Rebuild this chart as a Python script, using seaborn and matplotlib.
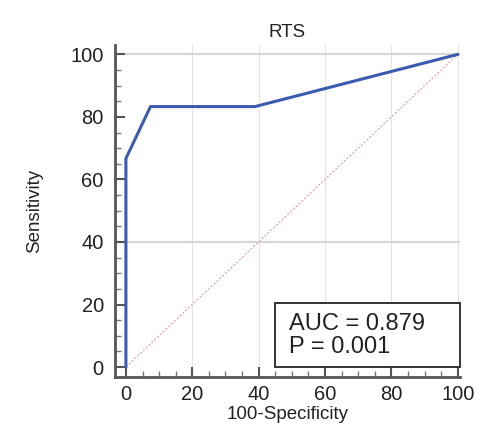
import matplotlib
matplotlib.use("Agg")
import matplotlib.pyplot as plt
import seaborn as sns
import pandas as pd
from matplotlib.ticker import MultipleLocator
from matplotlib.patches import Rectangle

fpr = [0, 0, 7.4, 38.9, 100]
tpr = [0, 66.7, 83.3, 83.3, 100]
diag_x = [0, 100]
diag_y = [0, 100]
x_ticks = [0, 20, 40, 60, 80, 100]
y_ticks = [0, 20, 40, 60, 80, 100]
title = "RTS"
auc_text = "AUC = 0.879\nP = 0.001"

sns.set_theme(style="white")
plt.rcParams['font.family'] = ['Liberation Sans', 'DejaVu Sans']

fig = plt.figure(figsize=(4.81, 4.41), dpi=100)
ax = fig.add_axes([0.239, 0.145, 0.717, 0.753])

for v in x_ticks[1:]:
    ax.axvline(v, color="#e4e4e4", lw=0.8, zorder=0)
for v in [40, 100]:
    ax.axhline(v, color="#d8d8d8", lw=1.6, zorder=0)

sns.lineplot(x=diag_x, y=diag_y, ax=ax, color="#e8a0a0", lw=0.8, linestyle=(0, (2, 1.5)), zorder=1)
df = pd.DataFrame({"fpr": fpr, "tpr": tpr})
sns.lineplot(data=df, x="fpr", y="tpr", ax=ax, color="#3a5bb0", lw=2.2, sort=False, estimator=None, zorder=3)

ax.set_xlim(-3.3, 100.6)
ax.set_ylim(-3.2, 103)
ax.set_xticks(x_ticks)
ax.set_yticks(y_ticks)
ax.xaxis.set_minor_locator(MultipleLocator(5))
ax.yaxis.set_minor_locator(MultipleLocator(5))
ax.tick_params(which="major", direction="in", length=7, width=1.5, color="#555555",
               labelsize=14.5, labelcolor="#222222")
ax.tick_params(axis="x", which="major", pad=6)
ax.tick_params(axis="y", which="major", pad=8)
ax.tick_params(which="minor", direction="in", length=4, width=1.0, color="#777777")
ax.tick_params(axis="both", which="both", left=True, bottom=True)

for s in ["top", "right"]:
    ax.spines[s].set_visible(False)
for s in ["left", "bottom"]:
    ax.spines[s].set_color("#555555")
    ax.spines[s].set_linewidth(2)

ax.set_xlabel("100-Specificity", fontsize=13.5, color="#222222", labelpad=1)
ax.set_ylabel("Sensitivity", fontsize=13.5, color="#222222", labelpad=20)
ax.set_title(title, fontsize=13.5, color="#222222", pad=6)

ax.add_patch(Rectangle((45, 0), 55.6, 20.5, facecolor="white", edgecolor="#333333",
                       lw=1.4, zorder=4, clip_on=False))
ax.text(49, 10.2, auc_text, fontsize=17, color="#222222", va="center", ha="left",
        linespacing=1.05, zorder=5)

fig.savefig("out.png", dpi=100)
